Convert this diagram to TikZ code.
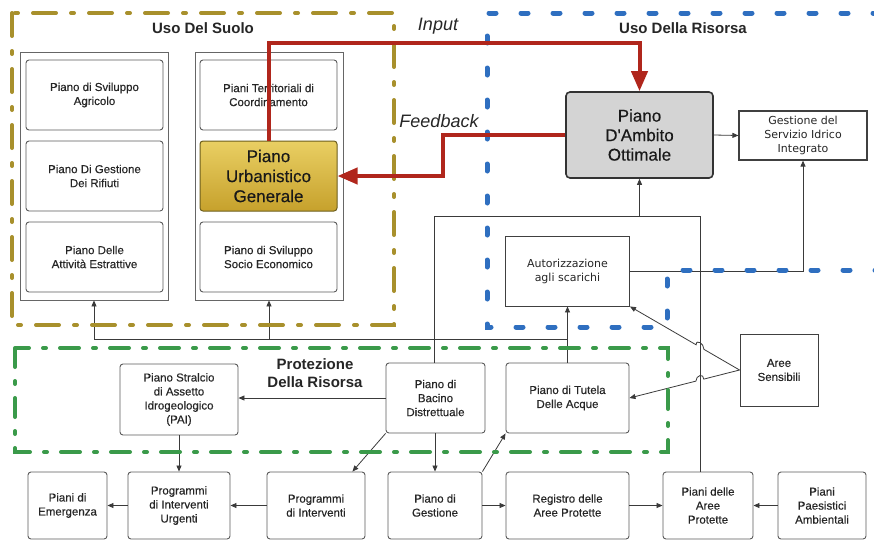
\documentclass[tikz,border=0pt]{standalone}
\usepackage{fontspec}
\setmainfont{Liberation Sans}
\newfontfamily\dejavu{DejaVu Sans}
\newfontfamily\medfont[FakeBold=0.35]{Liberation Sans}
\usetikzlibrary{arrows.meta,calc}
\definecolor{goldf}{HTML}{A8902C}
\definecolor{pugtop}{HTML}{E9CF63}
\definecolor{pugbot}{HTML}{C6A12C}
\definecolor{bluef}{HTML}{2F6FC0}
\definecolor{greenf}{HTML}{3A9A4A}
\definecolor{redl}{HTML}{B0261C}
\definecolor{boxgray}{HTML}{5A5A5A}
\definecolor{linegray}{HTML}{3A3A3A}
\begin{document}
\begin{tikzpicture}[x=1pt,y=-1pt,
  sz/.style 2 args={minimum width=#1pt, minimum height=#2pt},
  box/.style={draw=boxgray, line width=0.9pt, rounded corners=3pt, fill=white, align=center, inner sep=0pt, text=black!85, font=\medfont\fontsize{11.5}{14}\selectfont},
  sqbox/.style={draw=black!75, line width=1.2pt, fill=white, align=center, inner sep=0pt, text=black!85, font=\medfont\fontsize{11.5}{14}\selectfont},
  dvbox/.style={sqbox, font=\dejavu\fontsize{11}{14}\selectfont},
  cont/.style={draw=black!60, line width=0.8pt, inner sep=0pt},
  conn/.style={draw=linegray, line width=0.8pt},
  arr/.style={conn, -{Triangle[length=6pt,width=5pt]}},
  redline/.style={draw=redl, line width=4pt},
  redarr/.style={redline, -{Triangle[length=20pt,width=16pt]}},
  goldframe/.style={draw=goldf, line width=4pt, line cap=round, dash pattern=on 23pt off 15pt on 3pt off 15pt},
  greenframe/.style={draw=greenf, line width=4pt, line cap=round, dash pattern=on 19pt off 14pt on 3pt off 14pt},
  blueframe/.style={draw=bluef, line width=5pt, line cap=round, dash pattern=on 7pt off 25pt},
  titletext/.style={font=\bfseries\fontsize{15}{18}\selectfont, align=center, text=black!85},
  flowlabel/.style={font=\itshape\fontsize{18}{20}\selectfont, text=black!85}
]
\useasboundingbox (0,0) rectangle (874,541);

% ---------- containers ----------
\node[cont, sz={148}{248}] (contL) at (94,176) {};
\node[cont, sz={148}{248}] (contR) at (269,176) {};

% ---------- nodes ----------
\node[box, sz={137}{70}] (agr) at (94.5,95) {Piano di Sviluppo\\Agricolo};
\node[box, sz={137}{70}] (rif) at (94.5,176) {Piano Di Gestione\\Dei Rifiuti};
\node[box, sz={137}{70}] (est) at (94.5,257) {Piano Delle\\Attività Estrattive};
\node[box, sz={137}{70}] (ptc) at (268.5,95) {Piani Territoriali di\\Coordinamento};
\node[box, sz={137}{70}] (sse) at (268.5,257) {Piano di Sviluppo\\Socio Economico};

\node[dvbox, sz={128}{49}] (gsi) at (803,135.5) {Gestione del\\Servizio Idrico\\Integrato};
\node[dvbox, line width=0.9pt, sz={124}{70}] (aut) at (567.5,271) {Autorizzazione\\agli scarichi};
\node[sqbox, line width=0.9pt, sz={78}{72}] (are) at (779,370) {Aree\\Sensibili};

\node[box, sz={118}{71}] (pai) at (179,399.5) {Piano Stralcio\\di Assetto\\Idrogeologico\\(PAI)};
\node[box, sz={99}{70}] (bac) at (435.5,398) {Piano di\\Bacino\\Distrettuale};
\node[box, sz={123}{70}] (tut) at (567.5,398) {Piano di Tutela\\Delle Acque};

\node[box, sz={79}{67}] (eme) at (67.5,505.5) {Piani di\\Emergenza};
\node[box, sz={102}{67}] (pgu) at (179,505.5) {Programmi\\di Interventi\\Urgenti};
\node[box, sz={98}{67}] (pgi) at (316,505.5) {Programmi\\di Interventi};
\node[box, sz={94}{67}] (ges) at (435,505.5) {Piano di\\Gestione};
\node[box, sz={123}{67}] (reg) at (567.5,505.5) {Registro delle\\Aree Protette};
\node[box, sz={90}{67}] (pap) at (708,505.5) {Piani delle\\Aree\\Protette};
\node[box, sz={88}{67}] (ppa) at (822,505.5) {Piani\\Paesistici\\Ambientali};

% ---------- black connectors ----------
\coordinate (jT) at (567.5,339);
\coordinate (jL) at (94,339);
\coordinate (jR) at (269,339);
\draw[arr] (tut.north) -- (aut.south);
\draw[conn] (jT) -- (jL);
\draw[arr] (jL) -- (contL.south);
\draw[arr] (jR) -- (contR.south);

\coordinate (topL) at (434,216);
\coordinate (topM) at (639.5,216);
\coordinate (topR) at (700,216);
\coordinate (papT) at (700,472);
\draw[conn] (bac.north -| topL) -- (topL) -- (topR) -- (papT);

\node[box, minimum width=147pt, minimum height=86pt, fill=black!17, draw=black!80, line width=1.6pt, rounded corners=4pt, font=\medfont\fontsize{17}{19.5}\selectfont, text=black!90] (pdo) at (639.5,135) {Piano\\D'Ambito\\Ottimale};
\draw[arr] (topM) -- (pdo.south);
\draw[arr] (pdo.east) -- (gsi.west);
\draw[arr] (aut.east) -| (gsi.south);

\draw[arr] (are.west) -- ($(are.west)!0.325!(aut.south east)$) .. controls +(0,-6) and +(0,-6) .. ($(are.west)!0.396!(aut.south east)$) -- (aut.south east);
\draw[arr] (are.west) -- ($(are.west)!0.325!(tut.east)$) .. controls +(0,-6) and +(0,-6) .. ($(are.west)!0.396!(tut.east)$) -- (tut.east);

\draw[arr] (bac.west) -- (pai.east |- bac.west);
\draw[arr] (pai.south) -- (pgu.north);
\draw[arr] (bac.south west) -- ($(pgi.north east)+(-13,0)$);
\draw[arr] (bac.south -| ges.north) -- (ges.north);
\draw[arr] (ges.north east) -- (tut.south west);
\draw[arr] (pgi.west) -- (pgu.east);
\draw[arr] (pgu.west) -- (eme.east);
\draw[arr] (ges.east) -- (reg.west);
\draw[arr] (reg.east) -- (pap.west);
\draw[arr] (ppa.west) -- (pap.east);

% ---------- frames ----------
\draw[goldframe] (12,13) rectangle (394,325);
\draw[greenframe] (15,348) rectangle (668,452);
\draw[blueframe] (880,13) -- (487,13) -- (487,327) -- (667,327) -- (667,270) -- (880,270);

\node[titletext] (t1) at (203,28) {Uso Del Suolo};
\node[titletext] (t2) at (683,28) {Uso Della Risorsa};
\node[titletext] (t3) at (315,373) {Protezione\\Della Risorsa};

% ---------- PUG and red flows ----------
\node[box, sz={137}{70}, top color=pugtop, bottom color=pugbot, draw=goldf!65!black, line width=1pt, font=\medfont\fontsize{17}{20}\selectfont, text=black!90] (pug) at (268.5,176) {Piano\\Urbanistico\\Generale};

\coordinate (inA) at (268.5,43);
\coordinate (fbX) at (443,176);
\draw[redarr] (pug.north) -- (inA) -| (pdo.north);
\draw[redarr] (pdo.west) -| (fbX) -- (pug.east);

\node[flowlabel] (lin) at (438,26) {Input};
\node[flowlabel] (lfb) at (439,121) {Feedback};
\end{tikzpicture}
\end{document}
